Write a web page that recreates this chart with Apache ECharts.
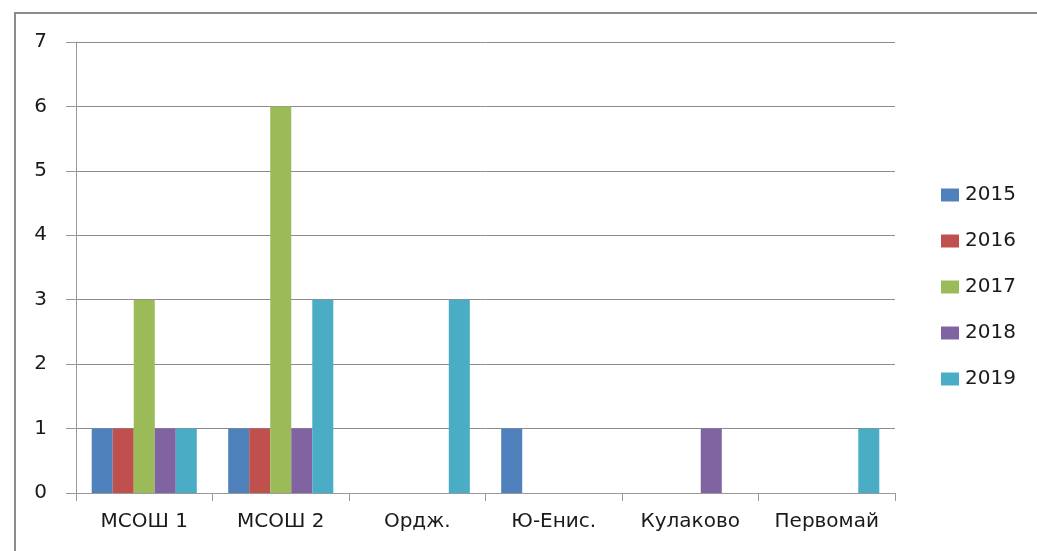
<!DOCTYPE html>
<html>
<head>
<meta charset="utf-8">
<script src="https://cdn.jsdelivr.net/npm/echarts@6/dist/echarts.min.js"></script>
<style>
  html, body { margin: 0; padding: 0; background: #fff; }
  #main { width: 1037px; height: 551px; }
</style>
</head>
<body>
<div id="main"></div>
<script>
// категории и значения по годам
var schools = ['МСОШ 1', 'МСОШ 2', 'Ордж.', 'Ю-Енис.', 'Кулаково', 'Первомай'];
var years = ['2015', '2016', '2017', '2018', '2019'];
var v2015 = [1, 1, 0, 1, 0, 0];
var v2016 = [1, 1, 0, 0, 0, 0];
var v2017 = [3, 6, 0, 0, 0, 0];
var v2018 = [1, 1, 0, 0, 1, 0];
var v2019 = [1, 3, 3, 0, 0, 1];
var yTicks = [0, 1, 2, 3, 4, 5, 6, 7];

var colors = ['#4F81BD', '#C0504D', '#9BBB59', '#8064A2', '#4BACC6'];
var font = 'DejaVu Sans';

var chart = echarts.init(document.getElementById('main'), null, { renderer: 'canvas' });

var values = [v2015, v2016, v2017, v2018, v2019];

var option = {
  animation: false,
  color: colors,
  textStyle: { fontFamily: font },
  graphic: [{
    type: 'rect',
    shape: { x: 15, y: 13, width: 1100, height: 700 },
    style: { fill: 'none', stroke: '#8c8c8c', lineWidth: 2 },
    silent: true
  }],
  grid: { left: 76, top: 42, right: 142, bottom: 58 },
  legend: {
    orient: 'vertical',
    left: 941,
    top: 185,
    padding: 0,
    itemWidth: 18,
    itemHeight: 13,
    itemGap: 26,
    icon: 'rect',
    textStyle: { fontFamily: font, fontSize: 20, color: '#1a1a1a', padding: [0, 0, 0, 1] },
    data: years
  },
  xAxis: {
    type: 'category',
    data: schools,
    axisLine: { lineStyle: { color: '#999', width: 1 } },
    axisTick: { show: true, length: 8, interval: 0, lineStyle: { color: '#999' } },
    axisLabel: { fontFamily: font, fontSize: 20, color: '#1a1a1a', margin: 19, interval: 0 }
  },
  yAxis: {
    type: 'value',
    min: yTicks[0],
    max: yTicks[yTicks.length - 1],
    interval: 1,
    axisLine: { show: true, lineStyle: { color: '#999', width: 1 } },
    axisTick: { show: true, length: 10, lineStyle: { color: '#999' } },
    axisLabel: { fontFamily: font, fontSize: 20, color: '#1a1a1a', margin: 29 },
    splitLine: { lineStyle: { color: '#8c8c8c', width: 1 } }
  },
  series: years.map(function (y, i) {
    return {
      name: y,
      type: 'bar',
      data: values[i],
      barGap: '0%',
      barCategoryGap: '23%',
      itemStyle: { color: colors[i] }
    };
  })
};

chart.setOption(option);
</script>
</body>
</html>
